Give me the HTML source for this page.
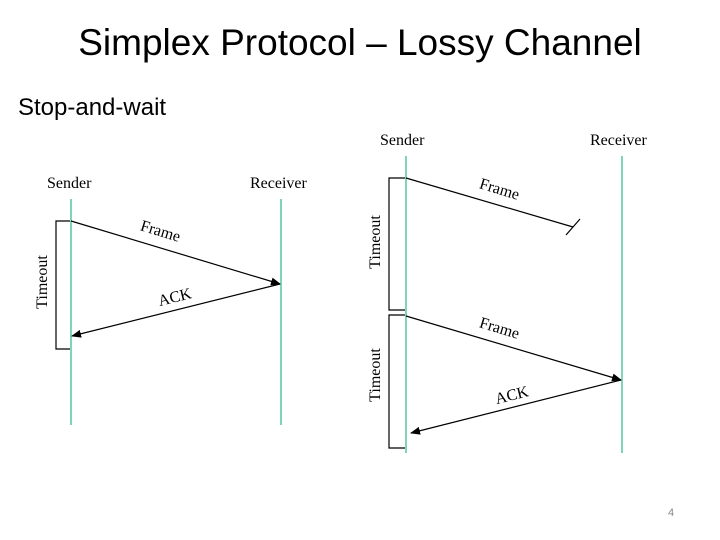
<!DOCTYPE html>
<html><head><style>
body{margin:0;width:720px;height:540px;background:#fff;overflow:hidden;position:relative;font-family:"Liberation Sans",sans-serif}
.t{position:absolute;left:0;width:720px;text-align:center;top:22px;font-size:37px;color:#000}
.s{position:absolute;left:18px;top:94px;font-size:24px;color:#000}
.n{position:absolute;left:668px;top:507px;font-size:11px;color:#888}
svg{position:absolute;left:0;top:0}
</style></head><body>
<div class="t">Simplex Protocol – Lossy Channel</div>
<div class="s">Stop-and-wait</div>
<div class="n">4</div>
<svg width="720" height="540" font-family="Liberation Serif, serif" font-size="16">
<defs><marker id="a" markerWidth="10" markerHeight="8" refX="9" refY="4" orient="auto" markerUnits="userSpaceOnUse"><path d="M0,0 L10,4 L0,8 z" fill="#000"/></marker></defs>
<g stroke="#7fd4bc" stroke-width="2">
<line x1="71" y1="199" x2="71" y2="425"/><line x1="281" y1="199" x2="281" y2="425"/>
<line x1="406" y1="156" x2="406" y2="453"/><line x1="622" y1="156" x2="622" y2="453"/>
</g>
<g stroke="#000" stroke-width="1.2" fill="none">
<path d="M70,221 H56 V349 H70"/>
<path d="M405,178 H389 V310 H405"/>
<path d="M405,315 H389 V448 H405"/>
<line x1="71" y1="221" x2="280" y2="284" marker-end="url(#a)"/>
<line x1="280" y1="284" x2="72" y2="336" marker-end="url(#a)"/>
<line x1="406" y1="178" x2="573" y2="227"/>
<line x1="566" y1="235" x2="580" y2="219"/>
<line x1="406" y1="316" x2="621" y2="380" marker-end="url(#a)"/>
<line x1="621" y1="380" x2="411" y2="433" marker-end="url(#a)"/>
</g>
<g fill="#000">
<text x="47" y="188">Sender</text><text x="250" y="188">Receiver</text>
<text x="380" y="145">Sender</text><text x="590" y="145">Receiver</text>
<text transform="translate(159,236) rotate(17)" text-anchor="middle">Frame</text>
<text transform="translate(176,302) rotate(-14)" text-anchor="middle">ACK</text>
<text transform="translate(47,282) rotate(-90)" text-anchor="middle">Timeout</text>
<text transform="translate(498,194) rotate(17)" text-anchor="middle">Frame</text>
<text transform="translate(498,333) rotate(17)" text-anchor="middle">Frame</text>
<text transform="translate(513,400) rotate(-14)" text-anchor="middle">ACK</text>
<text transform="translate(380,242) rotate(-90)" text-anchor="middle">Timeout</text>
<text transform="translate(380,375) rotate(-90)" text-anchor="middle">Timeout</text>
</g>
</svg>
</body></html>
